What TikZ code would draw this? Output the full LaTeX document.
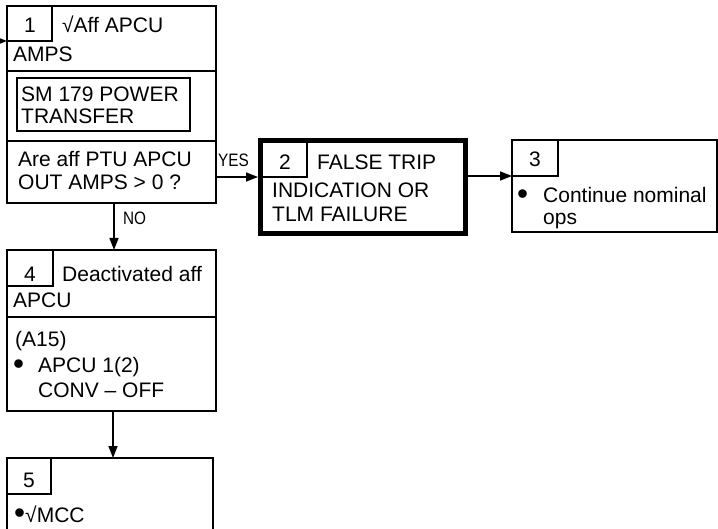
\documentclass[tikz,border=0pt]{standalone}
\usepackage{fontspec}
\usepackage{graphicx}
\setmainfont{Liberation Sans}
\usetikzlibrary{arrows.meta}
\newcommand{\bigbul}{\raisebox{-1.2pt}{\scalebox{1.5}{•}}}
\begin{document}
\begin{tikzpicture}[x=1pt,y=-1pt,
  box/.style={draw,line width=1.8pt},
  thickbox/.style={draw,line width=4.5pt},
  txt/.style={anchor=base west,inner sep=0pt,font=\fontsize{21}{24}\selectfont},
  num/.style={anchor=base,inner sep=0pt,font=\fontsize{21}{24}\selectfont},
  lbl/.style={anchor=base west,inner sep=0pt,font=\fontsize{18}{20}\selectfont},
  conn/.style={line width=1.5pt,-{Triangle[length=12pt,width=9pt]}}]
\useasboundingbox (0,0) rectangle (718,529);
\clip (0,0) rectangle (718,529);

% Box 1
\draw[box] (7,6) rectangle (216,203);
\coordinate (b1w) at (7,41);
\coordinate (b1e) at (216,177);
\coordinate (b1s) at (114,203);
\draw[box] (7,6) rectangle (52,41);
\draw[box] (7,71) -- (216,71);
\draw[box] (7,141) -- (216,141);
\draw[box] (17,78) rectangle (190,131);
\node[num] (n1) at (30,33) {1};
\node[txt] (t1a) at (62,33) {√Aff APCU};
\node[txt] (t1b) at (13,62) {AMPS};
\node[txt] (t1c) at (21,102) {SM 179 POWER};
\node[txt] (t1d) at (21,124) {TRANSFER};
\node[txt] (t1e) at (18,167) {Are aff PTU APCU};
\node[txt] (t1f) at (18,190) {OUT AMPS > 0 ?};

% Box 2
\draw[thickbox] (260.5,140.5) rectangle (465.5,233.5);
\coordinate (b2w) at (258,177);
\coordinate (b2e) at (468,176);
\draw[box] (262,142) rectangle (307,177);
\node[num] (n2) at (285,170) {2};
\node[txt] (t2a) at (317,170) {FALSE TRIP};
\node[txt] (t2b) at (272,198) {INDICATION OR};
\node[txt] (t2c) at (272,222) {TLM FAILURE};

% Box 3
\draw[box] (512,140) rectangle (717,232);
\coordinate (b3w) at (512,176);
\draw[box] (512,140) rectangle (558,176);
\node[num] (n3) at (535,167) {3};
\node[txt] (t3a) at (517,203) {\bigbul};
\node[txt] (t3b) at (543,203) {Continue nominal};
\node[txt] (t3c) at (543,225) {ops};

% Box 4
\draw[box] (7,250) rectangle (216,411);
\coordinate (b4n) at (114,250);
\coordinate (b4s) at (113,411);
\draw[box] (7,250) rectangle (53,286);
\draw[box] (7,317) -- (216,317);
\node[num] (n4) at (30,282) {4};
\node[txt] (t4a) at (62,282) {Deactivated aff};
\node[txt] (t4b) at (13,308) {APCU};
\node[txt] (t4c) at (15,347) {(A15)};
\node[txt] (t4d) at (13,373) {\bigbul};
\node[txt] (t4e) at (38,373) {APCU 1(2)};
\node[txt] (t4f) at (38,398) {CONV – OFF};

% Box 5
\draw[box] (7,540) -- (7,458) -- (213,458) -- (213,540);
\coordinate (b5n) at (113,458);
\draw[box] (7,458) rectangle (51,494);
\node[num] (n5) at (29,487) {5};
\node[txt] (t5a) at (14,522) {\bigbul√MCC};

% Connectors
\coordinate (in1) at (-2,41);
\draw[conn] (in1) -- (b1w);
\draw[conn] (b1e) -- (b2w);
\draw[conn] (b2e) -- (b3w);
\draw[conn] (b1s) -- (b4n);
\draw[conn] (b4s) -- (b5n);
\node[lbl] (yes) at (218,167) {\scalebox{0.85}[1]{YES}};
\node[lbl] (no) at (123,225) {\scalebox{0.85}[1]{NO}};
\end{tikzpicture}
\end{document}
